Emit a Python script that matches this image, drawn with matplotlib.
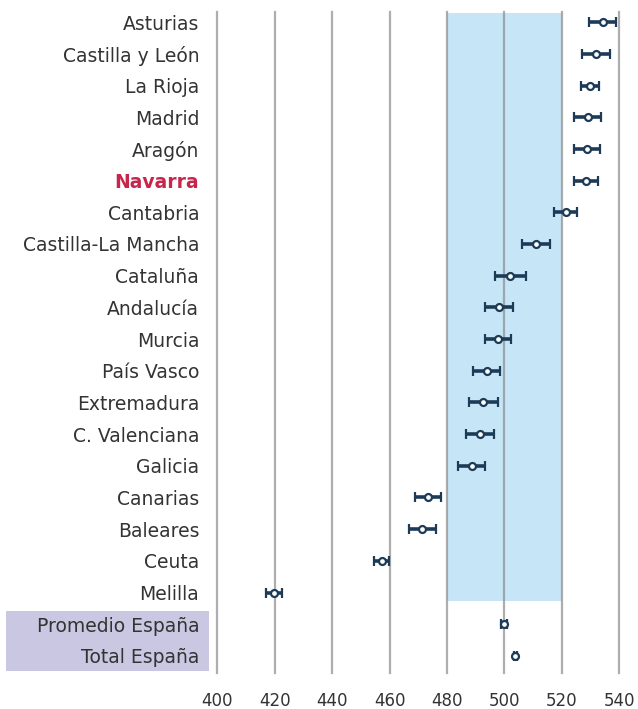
import matplotlib.pyplot as plt
from matplotlib.patches import Rectangle

regions = ['Asturias', 'Castilla y León', 'La Rioja', 'Madrid', 'Aragón', 'Navarra',
           'Cantabria', 'Castilla-La Mancha', 'Cataluña', 'Andalucía', 'Murcia',
           'País Vasco', 'Extremadura', 'C. Valenciana', 'Galicia', 'Canarias',
           'Baleares', 'Ceuta', 'Melilla', 'Promedio España', 'Total España']
scores = [534.2, 531.9, 529.8, 529.0, 528.7, 528.4, 521.3, 511.0, 502.0, 498.0, 497.8,
          493.8, 492.7, 491.5, 488.6, 473.3, 471.4, 457.3, 419.7, 499.9, 503.8]
errors = [4.6, 4.9, 3.0, 4.8, 4.6, 4.3, 3.9, 4.8, 5.4, 4.9, 4.6,
          4.6, 5.0, 4.9, 4.7, 4.6, 4.7, 2.6, 2.9, 1.0, 0.4]
xticks = [400, 420, 440, 460, 480, 500, 520, 540]

plt.rcParams['font.family'] = ['DejaVu Sans']

W, H = 638, 709
fig = plt.figure(figsize=(W / 100, H / 100), dpi=100)
ax = fig.add_axes([217.3 / W, 1 - 673 / H, (619.3 - 217.3) / W, (673 - 12) / H])

ys = list(range(len(regions)))
navy = '#1d3b57'

# reference band 480-520 (only behind the regions)
ax.add_patch(Rectangle((480, -0.28), 40, 18.55, facecolor='#c6e6f8', edgecolor='none', zorder=0))

for x in xticks:
    ax.axvline(x, color='#8c8c8c', lw=1.6, alpha=0.7, zorder=1, clip_on=False)

ax.errorbar(scores, ys, xerr=errors, fmt='o', color=navy, ecolor=navy, elinewidth=2.6,
            capsize=3.5, capthick=2.6, markersize=5, markerfacecolor='white',
            markeredgecolor=navy, markeredgewidth=1.6, zorder=3)

ax.set_xlim(400, 540)
ax.set_ylim(20.54, -0.32)
ax.set_yticks(ys)
ax.set_yticklabels(regions, fontsize=13.5, color='#333333')
ax.set_xticks(xticks)
ax.set_xticklabels([str(x) for x in xticks], fontsize=12, color='#333333')
ax.tick_params(axis='y', length=0, pad=13)
ax.tick_params(axis='x', length=0, pad=14)
for s in ax.spines.values():
    s.set_visible(False)

nav = ax.get_yticklabels()[regions.index('Navarra')]
nav.set_color('#c8254c')
nav.set_fontweight('bold')

# shaded box behind the Spain totals
fig.patches.append(Rectangle((6 / W, 1 - 671 / H), (209 - 6) / W, 60 / H,
                             transform=fig.transFigure, facecolor='#c9c7e1',
                             edgecolor='none', zorder=-1))

fig.savefig('out.png', dpi=100)
